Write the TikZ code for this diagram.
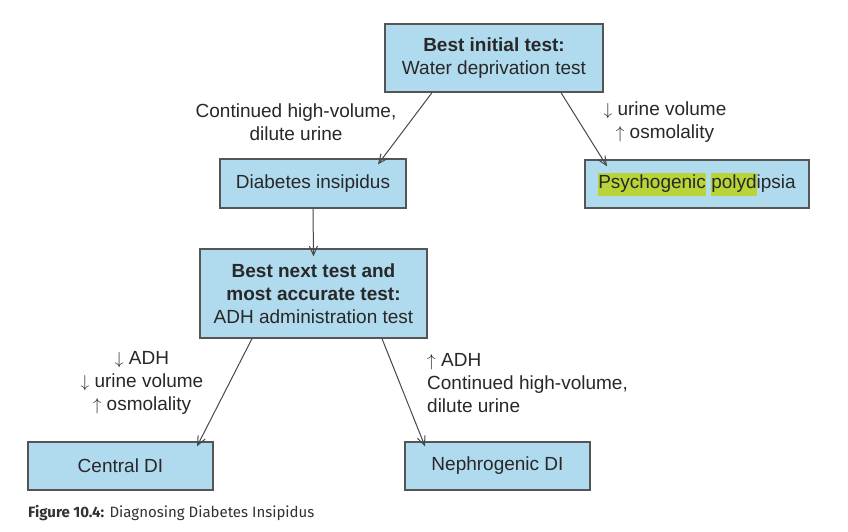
\documentclass[tikz,border=0pt]{standalone}
\usepackage{fontspec}
\setmainfont{Liberation Sans}
\newfontfamily\capfont{Fira Sans}
\usetikzlibrary{arrows.meta}
\definecolor{boxfill}{RGB}{176,218,238}
\definecolor{boxline}{RGB}{85,85,85}
\definecolor{txt}{RGB}{40,40,40}
\definecolor{hilite}{RGB}{184,212,56}
\definecolor{capcol}{RGB}{50,50,50}
\newcommand{\hl}[1]{{\setlength{\fboxsep}{0pt}\colorbox{hilite}{\strut #1}}}
\newcommand{\dn}{$\downarrow$}
\newcommand{\upa}{$\uparrow$}
\begin{document}
\begin{tikzpicture}[x=1pt,y=-1pt,
  every node/.style={text=txt,font=\fontsize{19}{23}\selectfont},
  box/.style={draw=boxline,line width=1.3pt,fill=boxfill,inner sep=0pt,align=center},
  lbl/.style={inner sep=0pt},
  conn/.style={draw=txt!85,line width=1pt,-{Straight Barb[length=9pt,width=8pt]}}]
\useasboundingbox[fill=white] (0,0) rectangle (848,532);
\node[box,minimum width=218pt,minimum height=68pt] (top) at (494,58) {\textbf{Best initial test:}\\Water deprivation test};
\node[box,minimum width=186pt,minimum height=49pt] (di) at (313,183.5) {Diabetes insipidus};
\node[box,minimum width=224pt,minimum height=48pt] (psy) at (697,184) {\hl{Psychogenic} \hl{polyd}ipsia};
\node[box,minimum width=227pt,minimum height=89pt] (adh) at (313.5,293.5) {\textbf{Best next test and}\\\textbf{most accurate test:}\\ADH administration test};
\node[box,minimum width=185pt,minimum height=48pt] (cdi) at (120.5,466) {Central DI};
\node[box,minimum width=185pt,minimum height=48pt] (ndi) at (497.5,466) {Nephrogenic DI};

\node[lbl,align=center] (l1) at (296,122) {Continued high-volume,\\dilute urine};
\node[lbl,align=center] (l2) at (665,122) {\dn\ urine volume\\\upa\ osmolality};
\node[lbl,align=center] (l3) at (142,383) {\dn\ ADH\\\dn\ urine volume\\\upa\ osmolality};
\node[lbl,align=left,anchor=west] (l4) at (427,383) {\upa\ ADH\\Continued high-volume,\\dilute urine};

\draw[conn] ([xshift=-62pt]top.south) -- ([xshift=65pt,yshift=-6pt]di.north);
\draw[conn] ([xshift=67pt]top.south) -- ([xshift=-90pt,yshift=-7pt]psy.north);
\draw[conn] (di.south) -- ([yshift=-8pt]adh.north);
\draw[conn] ([xshift=-61.5pt]adh.south) -- ([xshift=76.5pt,yshift=-5pt]cdi.north);
\draw[conn] ([xshift=68.5pt]adh.south) -- ([xshift=-72.5pt,yshift=-5pt]ndi.north);

\node[anchor=west,inner sep=0pt,text=capcol,font=\capfont\fontsize{15}{18}\selectfont] (cap) at (28,513) {\textbf{Figure 10.4:} Diagnosing Diabetes Insipidus};
\end{tikzpicture}
\end{document}
